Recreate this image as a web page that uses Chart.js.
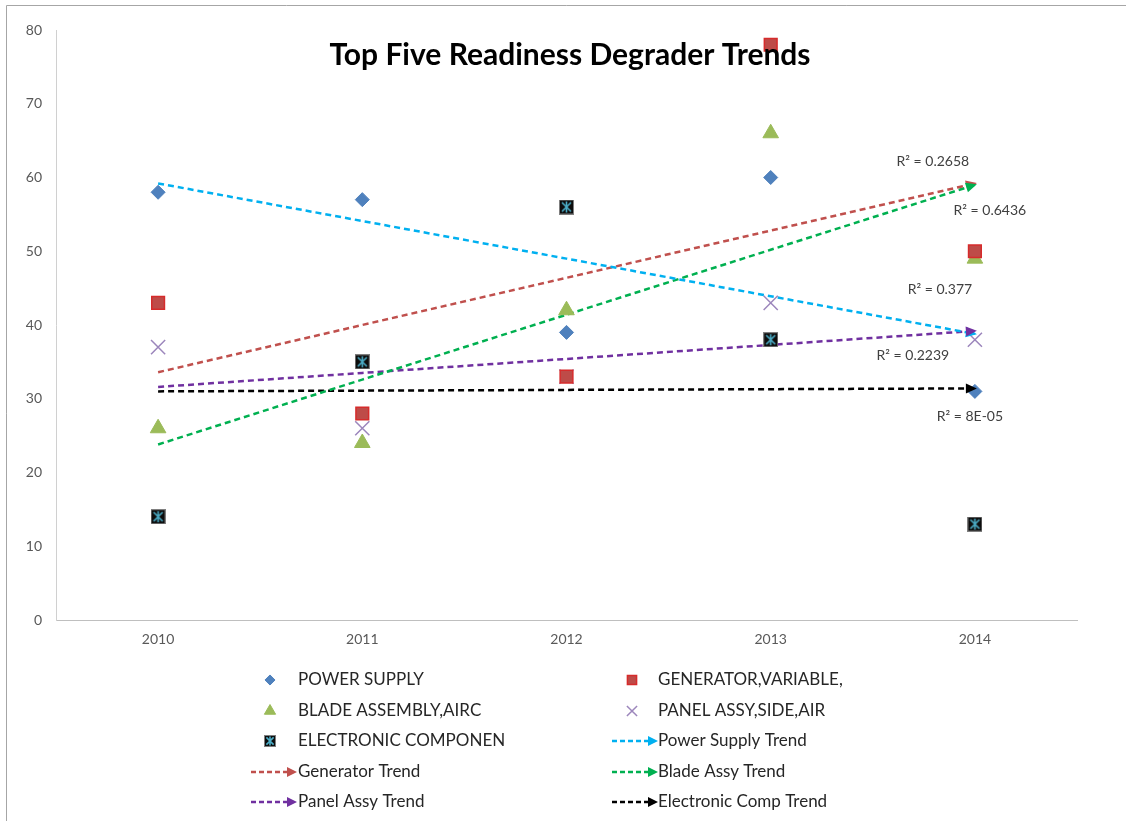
<!DOCTYPE html>
<html>
<head>
<meta charset="utf-8">
<title>Top Five Readiness Degrader Trends</title>
<script src="https://cdn.jsdelivr.net/npm/chart.js@4.4.0/dist/chart.umd.min.js"></script>
<style>
  html, body { margin: 0; padding: 0; background: #ffffff; }
  #wrap { position: relative; width: 1126px; height: 821px; }
  canvas { display: block; }
</style>
</head>
<body>
<div id="wrap"><canvas id="chart" width="1126" height="821"></canvas></div>
<script>
// ---- data ----
const years = ['2010', '2011', '2012', '2013', '2014'];
const powerSupply    = [58, 57, 39, 60, 31];
const generator      = [43, 28, 33, 78, 50];
const bladeAssembly  = [26, 24, 42, 66, 49];
const panelAssy      = [37, 26, 33, 43, 38];
const electronicComp = [14, 35, 56, 38, 13];

const seriesLabels = ['POWER SUPPLY', 'GENERATOR,VARIABLE,', 'BLADE ASSEMBLY,AIRC', 'PANEL ASSY,SIDE,AIR', 'ELECTRONIC COMPONEN'];
const trendLabels  = ['Power Supply Trend', 'Generator Trend', 'Blade Assy Trend', 'Panel Assy Trend', 'Electronic Comp Trend'];
const yTickValues  = [0, 10, 20, 30, 40, 50, 60, 70, 80];

// ---- styling ----
const FONT = "Lato, 'Open Sans', 'DejaVu Sans', sans-serif";
const trendColors = ['#00B0F0', '#C0504D', '#00B050', '#7030A0', '#000000'];
// pixel offsets of each R² caption from its trend line end point
const r2Offsets = [[-35, -44], [-42, -22], [15, 26], [-62, 25], [-5, 28]];

// least-squares linear fit over category index
function linearFit(vals) {
  const n = vals.length;
  const xs = vals.map((_, i) => i + 1);
  const mx = xs.reduce((a, b) => a + b, 0) / n;
  const my = vals.reduce((a, b) => a + b, 0) / n;
  let sxy = 0, sxx = 0, syy = 0;
  for (let i = 0; i < n; i++) {
    sxy += (xs[i] - mx) * (vals[i] - my);
    sxx += (xs[i] - mx) ** 2;
    syy += (vals[i] - my) ** 2;
  }
  const slope = sxy / sxx;
  const intercept = my - slope * mx;
  const r2 = (slope * slope * sxx) / syy;
  return { slope, intercept, r2, line: xs.map(x => intercept + slope * x) };
}

function formatR2(v) {
  if (v < 0.001) {
    const s = v.toExponential(0).toUpperCase();      // e.g. 8E-5
    return s.replace(/E([+-])(\d)$/, 'E$10$2');        // -> 8E-05
  }
  return String(parseFloat(v.toFixed(4)));
}

// black square marker with a cyan star, used for the electronic component series
function makeStarBox(size) {
  const c = document.createElement('canvas');
  c.width = size; c.height = size;
  const g = c.getContext('2d');
  g.fillStyle = '#0D0D0D';
  g.fillRect(0, 0, size, size);
  g.strokeStyle = '#4BACC6';
  g.lineWidth = 1.6;
  const p = size * 0.2, q = size - p, m = size / 2;
  g.beginPath();
  g.moveTo(p, p); g.lineTo(q, q);
  g.moveTo(q, p); g.lineTo(p, q);
  g.moveTo(m, p - 1); g.lineTo(m, q + 1);
  g.stroke();
  g.strokeStyle = '#7F7F7F';
  g.lineWidth = 1;
  g.strokeRect(0.5, 0.5, size - 1, size - 1);
  return c;
}
const starBox = makeStarBox(15);
const starBoxSmall = makeStarBox(12);

const rawSeries = [powerSupply, generator, bladeAssembly, panelAssy, electronicComp];
const fits = rawSeries.map(linearFit);

const markerStyles = [
  { pointStyle: 'rectRot',  pointRadius: 7,  backgroundColor: '#4F81BD', borderColor: '#4F81BD', pointBorderWidth: 1 },
  { pointStyle: 'rect',     pointRadius: 9,  backgroundColor: '#BE4B48', borderColor: '#D62B2B', pointBorderWidth: 1.5 },
  { pointStyle: 'triangle', pointRadius: 9,  backgroundColor: '#9BBB59', borderColor: '#9BBB59', pointBorderWidth: 1 },
  { pointStyle: 'crossRot', pointRadius: 10, backgroundColor: '#8064A2', borderColor: '#9C86BC', pointBorderWidth: 1.5 },
  { pointStyle: starBox,    pointRadius: 8,  backgroundColor: '#000000', borderColor: '#000000', pointBorderWidth: 1 }
];

const scatterSets = rawSeries.map((vals, i) => Object.assign({
  type: 'line',
  label: seriesLabels[i],
  data: vals,
  showLine: false,
  order: 1,
  kind: 'series',
  pointHoverRadius: markerStyles[i].pointRadius
}, markerStyles[i]));

const trendSets = fits.map((f, i) => ({
  type: 'line',
  label: trendLabels[i],
  data: f.line,
  borderColor: trendColors[i],
  backgroundColor: trendColors[i],
  borderWidth: 2.5,
  borderDash: [6, 4],
  pointRadius: 0,
  tension: 0,
  order: 2,
  kind: 'trend',
  r2: f.r2
}));

// dataset order gives the two-column legend layout
const datasets = [
  scatterSets[0], scatterSets[1],
  scatterSets[2], scatterSets[3],
  scatterSets[4], trendSets[0],
  trendSets[1], trendSets[2],
  trendSets[3], trendSets[4]
];

function drawArrow(ctx, x, y, angle, color, len, half) {
  ctx.save();
  ctx.translate(x, y);
  ctx.rotate(angle);
  ctx.fillStyle = color;
  ctx.beginPath();
  ctx.moveTo(0, 0);
  ctx.lineTo(-len, -half);
  ctx.lineTo(-len, half);
  ctx.closePath();
  ctx.fill();
  ctx.restore();
}

const decorPlugin = {
  id: 'decor',
  beforeDraw(chart) {
    const ctx = chart.ctx;
    ctx.save();
    ctx.fillStyle = '#ffffff';
    ctx.fillRect(0, 0, chart.width, chart.height);
    ctx.strokeStyle = '#A6A6A6';
    ctx.lineWidth = 1;
    ctx.beginPath();
    ctx.moveTo(6.5, chart.height);
    ctx.lineTo(6.5, 5.5);
    ctx.lineTo(chart.width, 5.5);
    ctx.stroke();
    ctx.restore();
  },
  afterDatasetsDraw(chart) {
    const ctx = chart.ctx;
    // arrow heads and R² captions at the end of each trend line
    chart.data.datasets.forEach((ds, di) => {
      if (ds.kind !== 'trend') return;
      const pts = chart.getDatasetMeta(di).data;
      const a = pts[0], b = pts[pts.length - 1];
      const ang = Math.atan2(b.y - a.y, b.x - a.x);
      drawArrow(ctx, b.x + 2, b.y + 2 * Math.tan(ang), ang, ds.borderColor, 11, 5);
      const ti = trendLabels.indexOf(ds.label);
      const off = r2Offsets[ti];
      ctx.save();
      ctx.font = '14px ' + FONT;
      ctx.fillStyle = '#404040';
      ctx.textAlign = 'center';
      ctx.textBaseline = 'middle';
      ctx.fillText('R\u00B2 = ' + formatR2(ds.r2), b.x + off[0], b.y + off[1]);
      ctx.restore();
    });
  },
  afterDraw(chart) {
    const ctx = chart.ctx;
    // title
    ctx.save();
    ctx.font = 'bold 30px ' + FONT;
    ctx.fillStyle = '#000000';
    ctx.textAlign = 'center';
    ctx.textBaseline = 'middle';
    ctx.fillText('Top Five Readiness Degrader Trends', 570, 55);
    ctx.restore();

    // legend, two columns
    const rowY = [680, 711, 741, 772, 802];
    const colMarkX = [270, 632];
    const colTextX = [298, 658];
    const colLineX = [251, 612];
    ctx.save();
    ctx.font = '17px ' + FONT;
    ctx.textBaseline = 'middle';
    ctx.textAlign = 'left';
    chart.data.datasets.forEach((ds, i) => {
      const row = Math.floor(i / 2), col = i % 2;
      const y = rowY[row];
      if (ds.kind === 'series') {
        if (ds.pointStyle instanceof HTMLCanvasElement) {
          ctx.drawImage(starBoxSmall, colMarkX[col] - 6, y - 6);
        } else {
          ctx.save();
          ctx.fillStyle = ds.backgroundColor;
          ctx.strokeStyle = ds.borderColor;
          ctx.lineWidth = ds.pointBorderWidth;
          Chart.helpers.drawPoint(ctx, {
            pointStyle: ds.pointStyle,
            radius: ds.pointRadius * 0.72,
            rotation: 0,
            borderWidth: ds.pointBorderWidth
          }, colMarkX[col], y);
          ctx.restore();
        }
      } else {
        ctx.save();
        ctx.strokeStyle = ds.borderColor;
        ctx.lineWidth = 2.5;
        ctx.setLineDash([5, 3]);
        ctx.beginPath();
        ctx.moveTo(colLineX[col], y);
        ctx.lineTo(colLineX[col] + 38, y);
        ctx.stroke();
        ctx.restore();
        drawArrow(ctx, colLineX[col] + 46, y, 0, ds.borderColor, 10, 5);
      }
      ctx.fillStyle = '#262626';
      ctx.fillText(ds.label, colTextX[col], y);
    });
    ctx.restore();
  }
};

new Chart(document.getElementById('chart'), {
  data: { labels: years, datasets: datasets },
  options: {
    responsive: false,
    animation: false,
    devicePixelRatio: 1,
    layout: { padding: { left: 0, top: 30, right: 49, bottom: 171 } },
    plugins: {
      legend: { display: false },
      title: { display: false },
      tooltip: { enabled: false }
    },
    scales: {
      x: {
        type: 'category',
        offset: true,
        grid: { display: false, drawTicks: false },
        border: { display: true, color: '#BFBFBF', width: 1 },
        ticks: { color: '#595959', font: { size: 14, family: FONT }, padding: 11 },
        afterFit(scale) { scale.height = 30; }
      },
      y: {
        type: 'linear',
        min: 0,
        max: 80,
        grid: { display: false, drawTicks: false },
        border: { display: true, color: '#D0D0D0', width: 1 },
        afterBuildTicks(scale) { scale.ticks = yTickValues.map(v => ({ value: v })); },
        ticks: { color: '#595959', font: { size: 14, family: FONT }, padding: 14 },
        afterFit(scale) { scale.width = 56; }
      }
    }
  },
  plugins: [decorPlugin]
});
</script>
</body>
</html>
